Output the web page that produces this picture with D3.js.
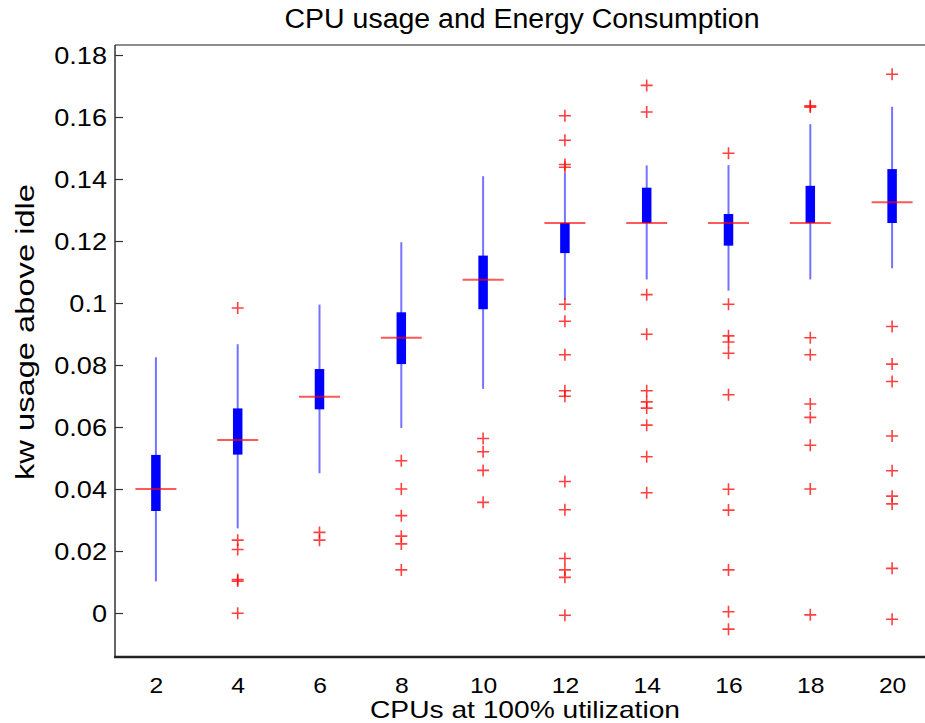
<!DOCTYPE html>
<html>
<head>
<meta charset="utf-8">
<script src="https://cdn.jsdelivr.net/npm/d3@7"></script>
<style>
  html, body { margin: 0; padding: 0; background: #fff; }
  svg { display: block; font-family: "Liberation Sans", Arial, Helvetica, sans-serif; }
</style>
</head>
<body>
<svg id="chart" width="925" height="723"></svg>
<script>
// ---- data ----
const categories = [2, 4, 6, 8, 10, 12, 14, 16, 18, 20];
const medians    = [0.0400, 0.0558, 0.0698, 0.0888, 0.1075, 0.1258, 0.1258, 0.1258, 0.1258, 0.1325];
const q1         = [0.0329, 0.0511, 0.0657, 0.0803, 0.0980, 0.1161, 0.1258, 0.1185, 0.1258, 0.1258];
const q3         = [0.0510, 0.0660, 0.0787, 0.0970, 0.1153, 0.1258, 0.1372, 0.1287, 0.1378, 0.1432];
const whiskerLow = [0.0102, 0.0273, 0.0451, 0.0597, 0.0723, 0.1010, 0.1076, 0.1040, 0.1076, 0.1112];
const whiskerHigh= [0.0825, 0.0867, 0.0995, 0.1196, 0.1409, 0.1419, 0.1444, 0.1445, 0.1577, 0.1633];
const outliers = [
  [],
  [0.0984, 0.0235, 0.0205, 0.0108, 0.0103, -0.0001],
  [0.0260, 0.0235],
  [0.0491, 0.0400, 0.0314, 0.0248, 0.0223, 0.0139],
  [0.0563, 0.0520, 0.0460, 0.0357],
  [0.1604, 0.1525, 0.1447, 0.1438, 0.0996, 0.0941, 0.0833, 0.0717, 0.0699, 0.0424, 0.0333, 0.0176, 0.0139, 0.0115, -0.0007],
  [0.1702, 0.1616, 0.1027, 0.0899, 0.0717, 0.0681, 0.0661, 0.0606, 0.0504, 0.0388],
  [0.1483, 0.0996, 0.0894, 0.0874, 0.0838, 0.0704, 0.0399, 0.0332, 0.0139, 0.0004, -0.0052],
  [0.1636, 0.1632, 0.0888, 0.0833, 0.0674, 0.0631, 0.0541, 0.0400, -0.0006],
  [0.1738, 0.0924, 0.0803, 0.0747, 0.0571, 0.0459, 0.0377, 0.0352, 0.0144, -0.0020]
];
const yTicks = [0, 0.02, 0.04, 0.06, 0.08, 0.1, 0.12, 0.14, 0.16, 0.18];
const yTickLabels = ["0", "0.02", "0.04", "0.06", "0.08", "0.1", "0.12", "0.14", "0.16", "0.18"];
const titleText = "CPU usage and Energy Consumption";
const xLabelText = "CPUs at 100% utilization";
const yLabelText = "kw usage above idle";

// ---- layout ----
const svg = d3.select("#chart");
const L = 115, R = 933, T = 45, B = 657;
const x = d3.scaleLinear().domain([0.5, categories.length + 0.5]).range([L, R]);
const y = d3.scaleLinear().domain([-0.01419, 0.18323]).range([B, T]);
const xi = i => x(i + 1);

svg.append("rect").attr("width", 925).attr("height", 723).attr("fill", "#fff");

// ---- axes frame ----
const yAxisL = d3.axisLeft(y).tickValues(yTicks).tickSizeInner(-8).tickSizeOuter(0).tickFormat((d, i) => yTickLabels[i]);
const gL = svg.append("g").attr("transform", `translate(${L},0)`).call(yAxisL);
gL.select(".domain").remove();
gL.selectAll(".tick line").attr("stroke", "#333").attr("stroke-width", 1.2);
gL.selectAll(".tick text")
  .attr("x", -8).attr("dy", "0.36em")
  .attr("font-size", 24).attr("fill", "#000")
  .attr("font-family", "Liberation Sans, Arial, sans-serif")
  .each(function () {
    const w = this.getComputedTextLength();
    d3.select(this).attr("textLength", w * 1.13).attr("lengthAdjust", "spacingAndGlyphs");
  });

const yAxisR = d3.axisRight(y).tickValues(yTicks).tickSizeInner(-8).tickSizeOuter(0).tickFormat("");
const gR = svg.append("g").attr("transform", `translate(${R},0)`).call(yAxisR);
gR.select(".domain").remove();
gR.selectAll(".tick line").attr("stroke", "#999").attr("stroke-width", 1.2);

const xAxis = d3.axisBottom(x).tickValues(categories.map((c, i) => i + 1)).tickSize(0).tickFormat((d, i) => categories[i]);
const gB = svg.append("g").attr("transform", `translate(0,${B})`).call(xAxis);
gB.select(".domain").remove();
gB.selectAll(".tick text")
  .attr("y", 36).attr("dy", 0)
  .attr("font-size", 22).attr("fill", "#000")
  .attr("font-family", "Liberation Sans, Arial, sans-serif")
  .each(function () {
    const w = this.getComputedTextLength();
    d3.select(this).attr("textLength", w * 1.12).attr("lengthAdjust", "spacingAndGlyphs");
  });

svg.append("line").attr("x1", L).attr("x2", R).attr("y1", T).attr("y2", T).attr("stroke", "#666").attr("stroke-width", 1.5);
svg.append("line").attr("x1", L).attr("x2", L).attr("y1", T).attr("y2", B).attr("stroke", "#333").attr("stroke-width", 1.5);
svg.append("line").attr("x1", L - 1).attr("x2", R).attr("y1", B).attr("y2", B).attr("stroke", "#222").attr("stroke-width", 2.5);

// ---- boxes ----
const g = svg.append("g");
categories.forEach((c, i) => {
  const cx = xi(i);
  g.append("line").attr("x1", cx).attr("x2", cx)
    .attr("y1", y(whiskerLow[i])).attr("y2", y(whiskerHigh[i]))
    .attr("stroke", "#0000ff").attr("stroke-opacity", 0.55).attr("stroke-width", 2);
  g.append("line").attr("x1", cx).attr("x2", cx)
    .attr("y1", y(q1[i])).attr("y2", y(q3[i]))
    .attr("stroke", "#0000ff").attr("stroke-width", 9.5);
  g.append("line").attr("x1", cx - 20.5).attr("x2", cx + 20.5)
    .attr("y1", y(medians[i])).attr("y2", y(medians[i]))
    .attr("stroke", "#ff0000").attr("stroke-opacity", 0.65).attr("stroke-width", 2);
  outliers[i].forEach(v => {
    const py = y(v);
    g.append("path")
      .attr("d", `M${cx - 6},${py}H${cx + 6}M${cx},${py - 6}V${py + 6}`)
      .attr("stroke", "#ff0000").attr("stroke-opacity", 0.75).attr("stroke-width", 1.6).attr("fill", "none");
  });
});

// ---- texts ----
svg.append("text").attr("x", (L + R) / 2 - 2).attr("y", 28).attr("text-anchor", "middle")
  .attr("font-size", 27).attr("textLength", 475).attr("lengthAdjust", "spacingAndGlyphs")
  .text(titleText);
svg.append("text").attr("x", 525).attr("y", 718).attr("text-anchor", "middle")
  .attr("font-size", 24).attr("textLength", 310).attr("lengthAdjust", "spacingAndGlyphs")
  .text(xLabelText);
svg.append("text").attr("transform", "translate(34,332) rotate(-90)").attr("text-anchor", "middle")
  .attr("font-size", 26).attr("textLength", 296).attr("lengthAdjust", "spacingAndGlyphs")
  .text(yLabelText);
</script>
</body>
</html>
